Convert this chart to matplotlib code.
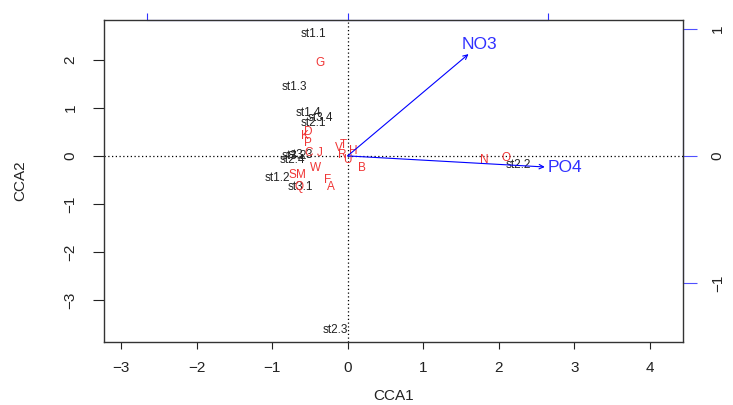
import matplotlib.pyplot as plt
import numpy as np

plt.rcParams['font.family'] = ['Liberation Sans', 'DejaVu Sans']

# site scores (CCA1, CCA2)
sites = ['st1.1', 'st1.2', 'st1.3', 'st1.4', 'st2.1', 'st2.2', 'st2.3', 'st2.4',
         'st3.1', 'st3.2', 'st3.3', 'st3.4']
site_x = [-0.45, -0.93, -0.71, -0.52, -0.45, 2.26, -0.16, -0.73, -0.62, -0.70, -0.62, -0.36]
site_y = [2.54, -0.46, 1.44, 0.90, 0.69, -0.19, -3.62, -0.08, -0.65, 0.00, 0.02, 0.79]

# species scores
species = ['G', 'D', 'K', 'P', 'C', 'J', 'W', 'S', 'M', 'Q', 'F', 'A',
           'T', 'V', 'H', 'R', 'U', 'B', 'N', 'O']
sp_x = [-0.36, -0.52, -0.56, -0.53, -0.52, -0.37, -0.42, -0.73, -0.62, -0.65, -0.26, -0.22,
        -0.05, -0.12, 0.07, -0.07, 0.00, 0.19, 1.81, 2.10]
sp_y = [1.94, 0.50, 0.42, 0.27, 0.06, 0.06, -0.25, -0.40, -0.40, -0.65, -0.50, -0.65,
        0.23, 0.17, 0.10, 0.02, -0.08, -0.25, -0.08, -0.04]

# environmental arrows (biplot scores, right/top axis units)
env = ['NO3', 'PO4']
env_x = [0.604, 0.985]
env_y = [0.80, -0.087]
env_lab_x = [1.74, 2.88]
env_lab_y = [2.31, -0.25]
mul = 2.65

fig = plt.figure(figsize=(7.33, 4.05), dpi=100)
ax = fig.add_axes([104/733, 1 - 342/405, (683-104)/733, (342-20)/405])
ax.set_xlim(-3.225, 4.44)
ax.set_ylim(-3.875, 2.83)

ax.axhline(0, color='black', ls=(0, (1, 2)), lw=0.9)
ax.axvline(0, color='black', ls=(0, (1, 2)), lw=0.9)

for s, x, y in zip(sites, site_x, site_y):
    ax.text(x, y, s, ha='center', va='center', fontsize=8.5, color='#222222')
for s, x, y in zip(species, sp_x, sp_y):
    ax.text(x, y, s, ha='center', va='center', fontsize=8.5, color='#f03535')

for x, y in zip(env_x, env_y):
    ax.annotate('', xy=(x*mul, y*mul), xytext=(0, 0),
                arrowprops=dict(arrowstyle='->', color='#0000ff', lw=0.8,
                                mutation_scale=8, shrinkA=0, shrinkB=0))
for s, x, y in zip(env, env_lab_x, env_lab_y):
    ax.text(x, y, s, ha='center', va='center', fontsize=12.5, color='#3030ff')

ax.set_xticks(range(-3, 5))
ax.set_yticks(range(-3, 3))
ax.tick_params(axis='x', length=5, pad=9, labelsize=11, colors='#222222')
ax.tick_params(axis='y', length=8, pad=11, labelsize=11, colors='#222222')
for lab in ax.get_yticklabels():
    lab.set_rotation(90)
    lab.set_va('center')
for sp in ax.spines.values():
    sp.set_color('#333333')
    sp.set_linewidth(1.0)
ax.set_xlabel('CCA1', fontsize=11, labelpad=10, color='#222222')
ax.set_ylabel('CCA2', fontsize=11, labelpad=26, color='#222222')

# secondary axes for arrow scale
top = ax.secondary_xaxis('top', functions=(lambda v: v/mul, lambda v: v*mul))
top.set_xticks([-1, 0, 1])
top.set_xticklabels([])
top.tick_params(length=5, color='#3030ff')
top.spines['top'].set_bounds(-1, 1)
top.spines['top'].set_color('#3030ff')

right = ax.secondary_yaxis('right', functions=(lambda v: v/mul, lambda v: v*mul))
right.set_yticks([-1, 0, 1])
right.tick_params(length=10, pad=10, color='#5050ff', labelsize=11, labelcolor='#222222')
for lab in right.get_yticklabels():
    lab.set_rotation(90)
    lab.set_va('center')
right.spines['right'].set_bounds(-1, 1)
right.spines['right'].set_color('#5050ff')

fig.savefig('out.png', dpi=100)
